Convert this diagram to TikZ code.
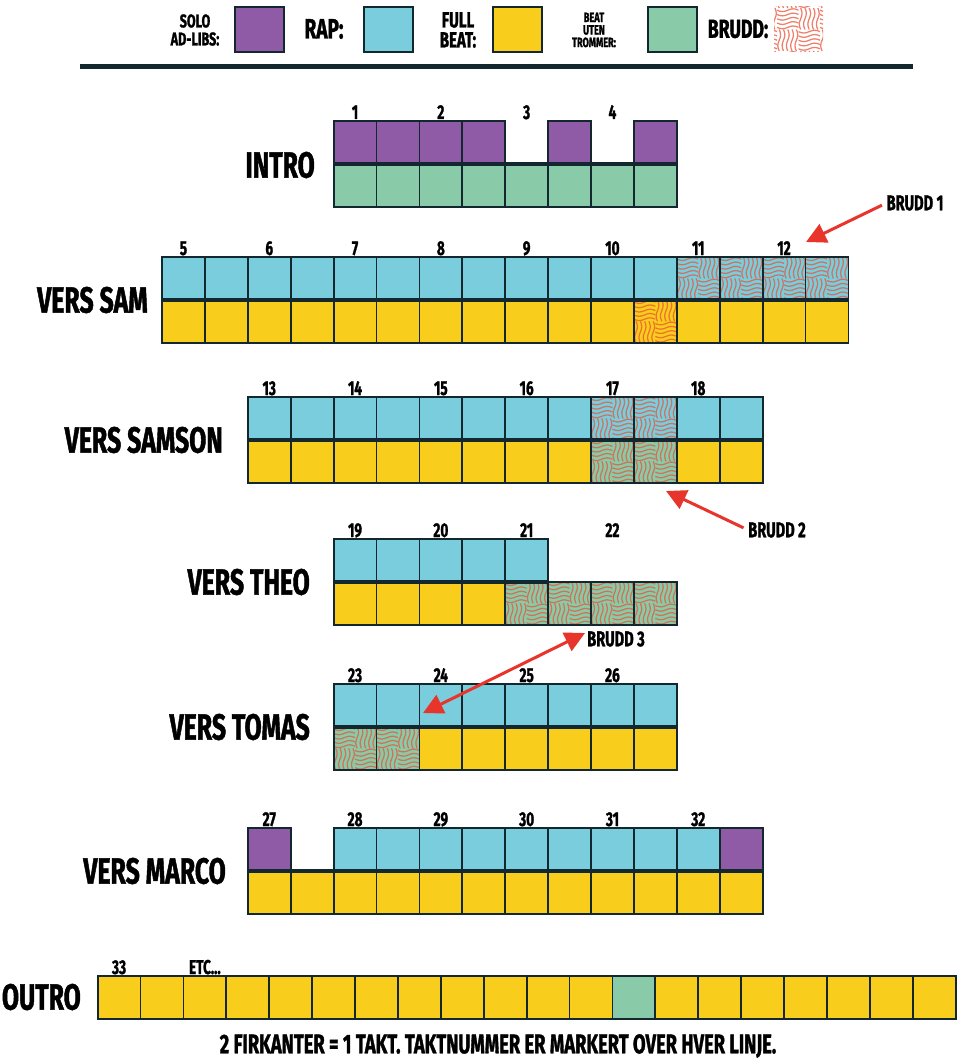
\documentclass[tikz,border=0pt]{standalone}
\usepackage{fontspec}
\setmainfont{Fira Sans}[FakeStretch=0.68, FakeBold=1.2]
\usetikzlibrary{arrows.meta}
\definecolor{cpurple}{HTML}{8F5BA6}
\definecolor{cblue}{HTML}{79CDDD}
\definecolor{cyellow}{HTML}{F9CD1B}
\definecolor{cgreen}{HTML}{89CBA8}
\definecolor{cdark}{HTML}{13272F}
\definecolor{cwave}{HTML}{E9553A}
\definecolor{cred}{HTML}{E8352B}
\def\cw{42.9}
\def\qq{21.45}
\newcommand\brwaves[2]{%
  \foreach \qx in {#1,...,#2}{\foreach \qy in {#1,...,#2}{%
    \pgfmathparse{int(mod(\qx+\qy+4,2))}%
    \ifnum\pgfmathresult=0
      \foreach \k in {0,...,4}{\draw[wave] plot[domain=0:1,samples=9,smooth] ({(\qx+\x)*\qq},{(\qy+(\k+0.5)/5)*\qq+1.4*sin(\x*360)});}%
    \else
      \foreach \k in {0,...,4}{\draw[wave] plot[domain=0:1,samples=9,smooth] ({(\qx+(\k+0.5)/5)*\qq+1.4*sin(\x*360)},{(\qy+\x)*\qq});}%
    \fi}}}
\tikzset{
  cell/.style={draw=cdark, line width=1.8pt, minimum size=\cw pt, inner sep=0pt, outer sep=0pt},
  pu/.style={cell, fill=cpurple},
  bl/.style={cell, fill=cblue},
  ye/.style={cell, fill=cyellow},
  gr/.style={cell, fill=cgreen},
  br/.style={path picture={\brwaves{-1}{0}}},
  brleg/.style={path picture={\brwaves{-2}{1}}},
  wave/.style={draw=cwave, line width=1.25pt, opacity=0.75},
  seam/.style={draw=cdark, line width=3.6pt},
  num/.style={anchor=base, inner sep=0pt, font=\bfseries\fontsize{20}{20}\selectfont},
  lab/.style={anchor=east, inner sep=0pt, font=\bfseries\fontsize{36.5}{36.5}\selectfont},
  leg/.style={draw=cdark, line width=1.8pt, minimum width=49pt, minimum height=45pt, inner sep=0pt},
  note/.style={inner sep=0pt, font=\bfseries\fontsize{21.5}{21.5}\selectfont},
  redarrow/.style={draw=cred, line width=3pt, -{Triangle[length=20pt,width=20pt]}},
}
\begin{document}
\begin{tikzpicture}[x=1pt,y=-1pt]
\fill[white] (0,0) rectangle (957,1062);
\useasboundingbox (0,0) rectangle (957,1062);

% ---------- legend ----------
\node[align=center, inner sep=0pt, font=\bfseries\fontsize{18.5}{18}\selectfont] (t-solo) at (195,30) {SOLO\\AD-LIBS:};
\node[leg, fill=cpurple] (l-solo) at (259.5,29.5) {};
\node[inner sep=0pt, font=\bfseries\fontsize{28}{28}\selectfont] (t-rap) at (324,29) {RAP:};
\node[leg, fill=cblue] (l-rap) at (388.5,29.5) {};
\node[align=center, inner sep=0pt, font=\bfseries\fontsize{22}{20}\selectfont] (t-full) at (458,30) {FULL\\BEAT:};
\node[leg, fill=cyellow] (l-full) at (517.5,29.5) {};
\node[align=center, inner sep=0pt, font=\bfseries\fontsize{13.5}{12.5}\selectfont] (t-beat) at (594,30) {BEAT\\UTEN\\TROMMER:};
\node[leg, fill=cgreen] (l-beat) at (672.5,29.5) {};
\node[inner sep=0pt, font=\bfseries\fontsize{26}{26}\selectfont] (t-brudd) at (738,29) {BRUDD:};
\node[minimum width=49pt, minimum height=45pt, inner sep=0pt, fill=white, brleg] (l-brudd) at (798.5,29.5) {};
\coordinate (hl-a) at (80,67);
\coordinate (hl-b) at (913,67);
\draw[draw=cdark, line width=5pt] (hl-a) -- (hl-b);

% ---------- INTRO ----------
\def\X{333.6}\def\Y{121}
\foreach \i in {1,2,3,4,6,8} \node[pu] (in-t\i) at ({\X+(\i-0.5)*\cw},{\Y+0.5*\cw}) {};
\foreach \i in {1,...,8} \node[gr] (in-b\i) at ({\X+(\i-0.5)*\cw},{\Y+1.5*\cw}) {};
\draw[seam] (in-b1.north west) -- (in-b8.north east);
\foreach \n/\i in {1/1,2/3,3/5,4/7} \node[num] (in-n\n) at ({\X+(\i-0.5)*\cw},{\Y-2}) {\n};
\node[lab] (lab-intro) at (315,165) {INTRO};

% ---------- VERS SAM ----------
\def\X{162}\def\Y{257}
\foreach \i in {1,...,12} \node[bl] (sa-t\i) at ({\X+(\i-0.5)*\cw},{\Y+0.5*\cw}) {};
\foreach \i in {13,...,16} \node[bl, br] (sa-t\i) at ({\X+(\i-0.5)*\cw},{\Y+0.5*\cw}) {};
\foreach \i in {1,...,11,13,14,15,16} \node[ye] (sa-b\i) at ({\X+(\i-0.5)*\cw},{\Y+1.5*\cw}) {};
\node[ye, br] (sa-b12) at ({\X+11.5*\cw},{\Y+1.5*\cw}) {};
\draw[seam] (sa-b1.north west) -- (sa-b16.north east);
\foreach \n/\i in {5/1,6/3,7/5,8/7,9/9,10/11,11/13,12/15} \node[num] (sa-n\n) at ({\X+(\i-0.5)*\cw},{\Y-2}) {\n};
\node[lab] (lab-sam) at (148,300) {VERS SAM};

% ---------- VERS SAMSON ----------
\def\X{247.8}\def\Y{397}
\foreach \i in {1,...,8,11,12} \node[bl] (sn-t\i) at ({\X+(\i-0.5)*\cw},{\Y+0.5*\cw}) {};
\foreach \i in {9,10} \node[bl, br] (sn-t\i) at ({\X+(\i-0.5)*\cw},{\Y+0.5*\cw}) {};
\foreach \i in {1,...,8,11,12} \node[ye] (sn-b\i) at ({\X+(\i-0.5)*\cw},{\Y+1.5*\cw}) {};
\foreach \i in {9,10} \node[gr, br] (sn-b\i) at ({\X+(\i-0.5)*\cw},{\Y+1.5*\cw}) {};
\draw[seam] (sn-b1.north west) -- (sn-b12.north east);
\foreach \n/\i in {13/1,14/3,15/5,16/7,17/9,18/11} \node[num] (sn-n\n) at ({\X+(\i-0.5)*\cw},{\Y-2}) {\n};
\node[lab] (lab-samson) at (223,440) {VERS SAMSON};

% ---------- VERS THEO ----------
\def\X{333.6}\def\Y{539}
\foreach \i in {1,...,5} \node[bl] (th-t\i) at ({\X+(\i-0.5)*\cw},{\Y+0.5*\cw}) {};
\foreach \i in {1,...,4} \node[ye] (th-b\i) at ({\X+(\i-0.5)*\cw},{\Y+1.5*\cw}) {};
\foreach \i in {5,...,8} \node[gr, br] (th-b\i) at ({\X+(\i-0.5)*\cw},{\Y+1.5*\cw}) {};
\draw[seam] (th-b1.north west) -- (th-t5.south east);
\foreach \n/\i in {19/1,20/3,21/5,22/7} \node[num] (th-n\n) at ({\X+(\i-0.5)*\cw},{\Y-2}) {\n};
\node[lab] (lab-theo) at (310,582) {VERS THEO};

% ---------- VERS TOMAS ----------
\def\X{333.6}\def\Y{684}
\foreach \i in {1,...,8} \node[bl] (to-t\i) at ({\X+(\i-0.5)*\cw},{\Y+0.5*\cw}) {};
\foreach \i in {1,2} \node[gr, br] (to-b\i) at ({\X+(\i-0.5)*\cw},{\Y+1.5*\cw}) {};
\foreach \i in {3,...,8} \node[ye] (to-b\i) at ({\X+(\i-0.5)*\cw},{\Y+1.5*\cw}) {};
\draw[seam] (to-b1.north west) -- (to-b8.north east);
\foreach \n/\i in {23/1,24/3,25/5,26/7} \node[num] (to-n\n) at ({\X+(\i-0.5)*\cw},{\Y-2}) {\n};
\node[lab] (lab-tomas) at (310,727) {VERS TOMAS};

% ---------- VERS MARCO ----------
\def\X{247.8}\def\Y{828}
\foreach \i in {1,12} \node[pu] (ma-t\i) at ({\X+(\i-0.5)*\cw},{\Y+0.5*\cw}) {};
\foreach \i in {3,...,11} \node[bl] (ma-t\i) at ({\X+(\i-0.5)*\cw},{\Y+0.5*\cw}) {};
\foreach \i in {1,...,12} \node[ye] (ma-b\i) at ({\X+(\i-0.5)*\cw},{\Y+1.5*\cw}) {};
\draw[seam] (ma-b1.north west) -- (ma-b12.north east);
\foreach \n/\i in {27/1,28/3,29/5,30/7,31/9,32/11} \node[num] (ma-n\n) at ({\X+(\i-0.5)*\cw},{\Y-2}) {\n};
\node[lab] (lab-marco) at (226,871) {VERS MARCO};

% ---------- OUTRO ----------
\def\X{97.6}\def\Y{976}
\foreach \i in {1,...,12,14,15,16,17,18,19,20} \node[ye] (ou-\i) at ({\X+(\i-0.5)*\cw},{\Y+0.5*\cw}) {};
\node[gr] (ou-13) at ({\X+12.5*\cw},{\Y+0.5*\cw}) {};
\node[num] (ou-n33) at ({\X+0.5*\cw},{\Y-2}) {33};
\node[num] (ou-etc) at ({\X+2.5*\cw},{\Y-2}) {ETC...};
\node[lab] (lab-outro) at (81,997) {OUTRO};

% ---------- BRUDD arrows ----------
\node[note] (brudd1) at (915,203) {BRUDD 1};
\coordinate (b1tip) at (806,242);
\draw[redarrow, shorten <=5pt] (brudd1.west) -- (b1tip);
\node[note] (brudd2) at (777,530) {BRUDD 2};
\coordinate (b2tip) at (666,491);
\draw[redarrow, shorten <=5pt] (brudd2.west) -- (b2tip);
\node[note] (brudd3) at (616,639) {BRUDD 3};
\coordinate (b3a) at (585,633);
\coordinate (b3b) at (423,713);
\draw[redarrow, {Triangle[length=20pt,width=20pt]}-{Triangle[length=20pt,width=20pt]}] (b3a) -- (b3b);

% ---------- footer ----------
\node[inner sep=0pt, font=\bfseries\fontsize{27}{27}\selectfont] (footer) at (498,1046) {2 FIRKANTER = 1 TAKT. TAKTNUMMER ER MARKERT OVER HVER LINJE.};
\end{tikzpicture}
\end{document}
